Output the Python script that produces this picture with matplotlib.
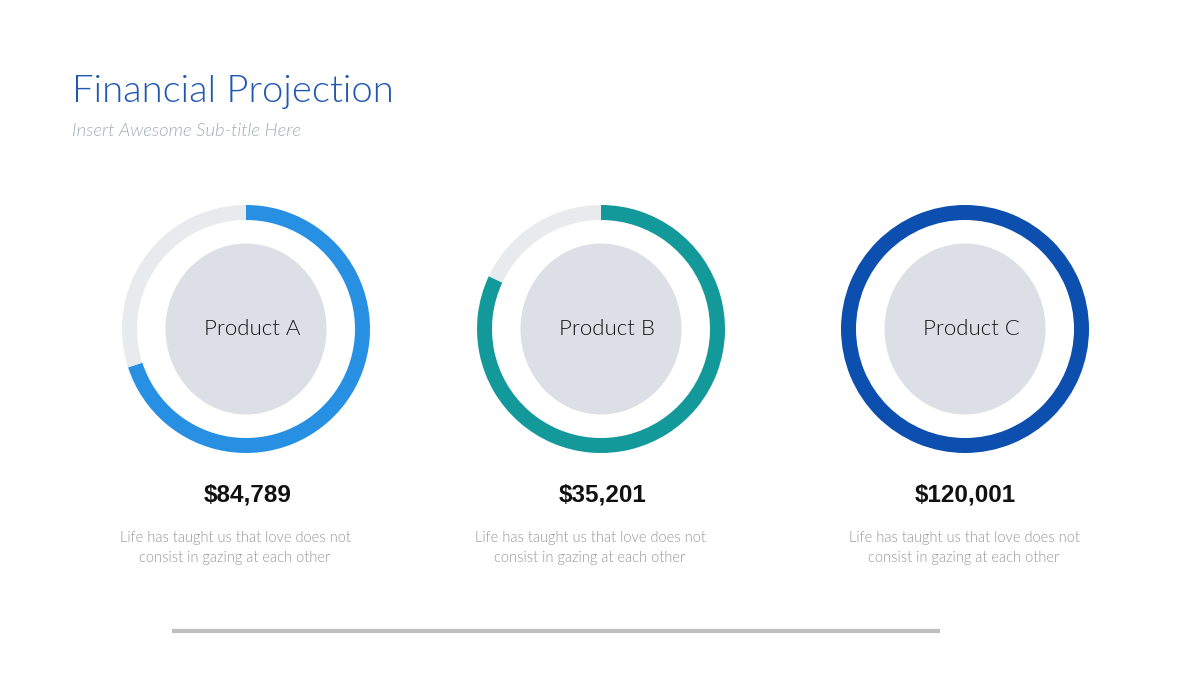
import matplotlib
matplotlib.use("Agg")
import matplotlib.pyplot as plt
from matplotlib.patches import Ellipse

title = "Financial Projection"
subtitle = "Insert Awesome Sub-title Here"
products = ["Product A", "Product B", "Product C"]
shares = [70, 82, 100]
values = ["$84,789", "$35,201", "$120,001"]
desc = "Life has taught us that love does not\nconsist in gazing at each other"
colors = ["#2790e3", "#14999a", "#0c4fae"]

W, H = 1200, 675
fig = plt.figure(figsize=(12, 6.75), dpi=100)
ax = fig.add_axes([0, 0, 1, 1])

centers_x = [246, 601, 965]
cy = H - 329
R = 124
ring_w = 15
LIGHT = ["Lato", "DejaVu Sans"]

for i, (p, s, v, c) in enumerate(zip(products, shares, values, colors)):
    cx = centers_x[i]
    rest = 100 - s
    vals = [s, rest] if rest > 0 else [s]
    cols = [c, "#e8eaed"] if rest > 0 else [c]
    ax.pie(vals, colors=cols, startangle=90, counterclock=False,
           center=(cx, cy), radius=R,
           wedgeprops=dict(width=ring_w, linewidth=0))
    ax.add_patch(Ellipse((cx, cy), 161, 171, facecolor="#dcdfe5", edgecolor="none"))
    ax.text(cx + 6, cy, p, ha="center", va="center", fontsize=16,
            color="#111111", family=LIGHT, fontweight=300)

ax.set_xlim(0, W)
ax.set_ylim(0, H)
ax.set_aspect("equal")
ax.axis("off")

desc_x = [235, 590, 964]
val_x = [248, 603, 965]
for i in range(3):
    ax.text(val_x[i], H - 495, values[i], ha="center", va="center",
            fontsize=17.5, fontweight="bold", color="#111111",
            family="Liberation Sans")
    ax.text(desc_x[i], H - 548, desc, ha="center", va="center",
            fontsize=10.5, color="#969696", linespacing=1.55,
            family=LIGHT, fontweight=300)

ax.text(72, H - 92, title, ha="left", va="center", fontsize=27.5,
        color="#1f58b3", family=LIGHT, fontweight=300)
ax.text(72, H - 131, subtitle, ha="left", va="center", fontsize=13.3,
        color="#a4abb6", style="italic", family=LIGHT, fontweight=300)

ax.plot([172, 940], [H - 631, H - 631], color="#bfbfbf", linewidth=3,
        solid_capstyle="butt")

fig.savefig("out.png", dpi=100, facecolor="white")
